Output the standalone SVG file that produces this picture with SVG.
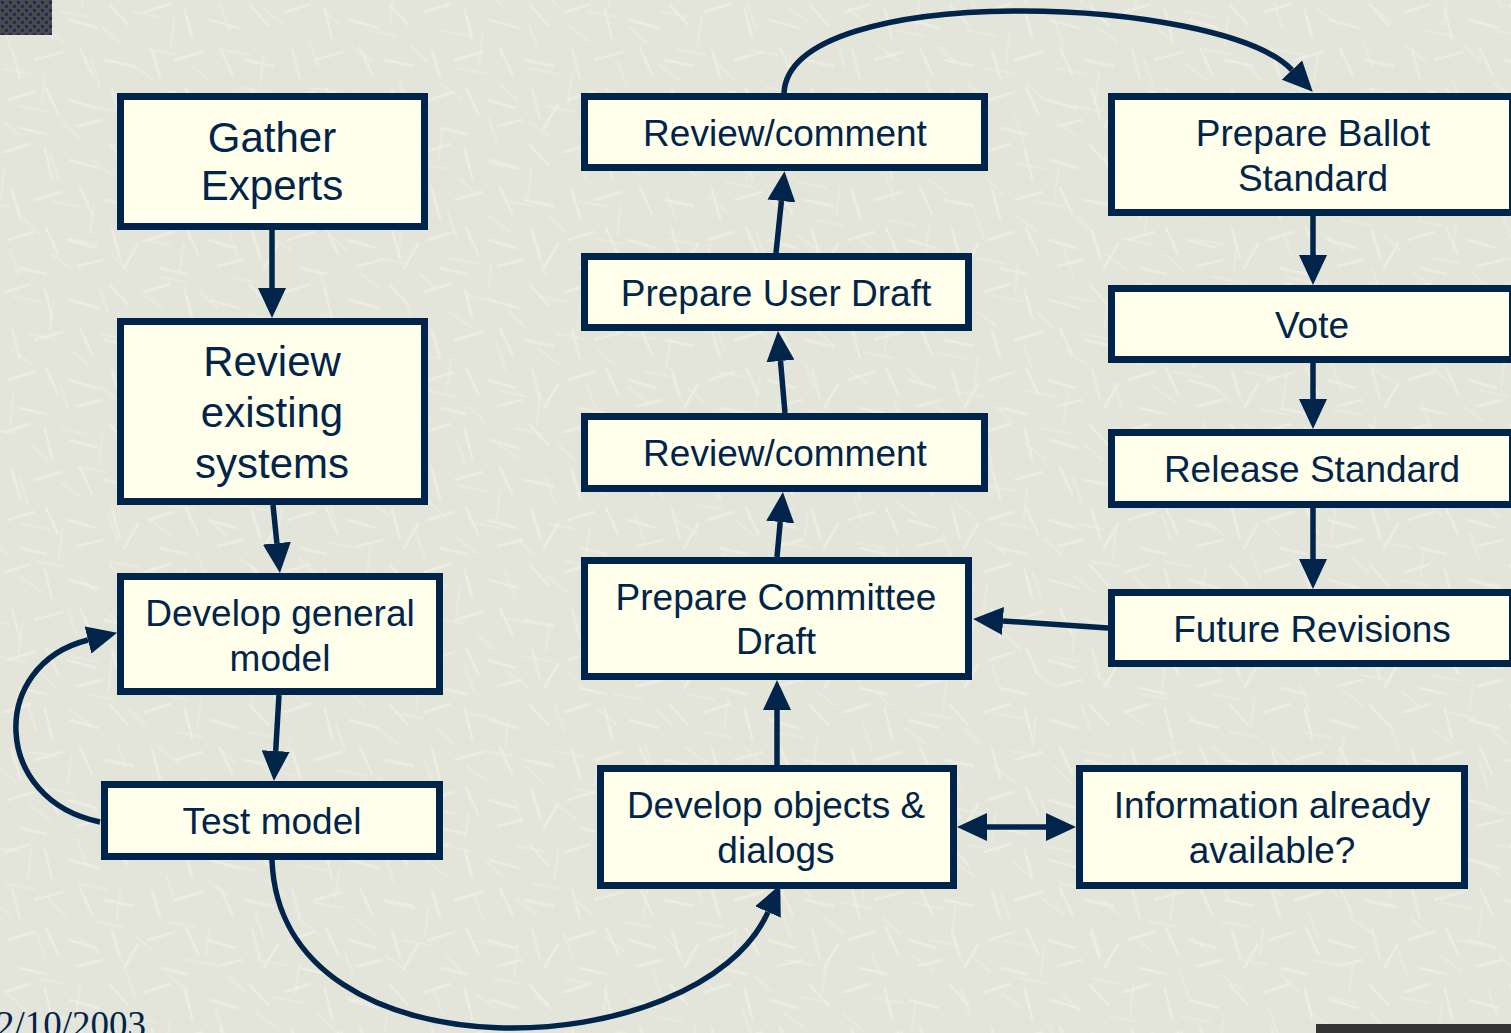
<svg xmlns="http://www.w3.org/2000/svg" width="1511" height="1033" viewBox="0 0 1511 1033">
<defs>
<style>
.box{fill:#FFFFEB;stroke:#00244A;stroke-width:7}
.t{font-family:"Liberation Sans",Arial,sans-serif;font-size:37px;fill:#00244A;text-anchor:middle}
.tl{font-size:42px}
.c{fill:none;stroke:#00244A;stroke-width:5.5}
</style>
<marker id="ah" viewBox="0 0 30 28" refX="0" refY="14" markerWidth="30" markerHeight="28" markerUnits="userSpaceOnUse" orient="auto-start-reverse">
<path d="M0,0 L30,14 L0,28 Z" fill="#00244A"/>
</marker>
<pattern id="tex" width="140" height="140" patternUnits="userSpaceOnUse">
<g stroke="#EFF0E8" stroke-width="2.5" stroke-linecap="round" opacity="0.7">
<line x1="5" y1="12" x2="30" y2="4"/>
<line x1="45" y1="10" x2="52" y2="38"/>
<line x1="70" y1="20" x2="98" y2="28"/>
<line x1="110" y1="5" x2="128" y2="25"/>
<line x1="12" y1="50" x2="20" y2="78"/>
<line x1="35" y1="60" x2="62" y2="52"/>
<line x1="80" y1="48" x2="92" y2="74"/>
<line x1="105" y1="60" x2="133" y2="66"/>
<line x1="8" y1="100" x2="34" y2="92"/>
<line x1="46" y1="88" x2="58" y2="114"/>
<line x1="68" y1="100" x2="96" y2="108"/>
<line x1="112" y1="90" x2="120" y2="118"/>
<line x1="20" y1="128" x2="46" y2="134"/>
<line x1="78" y1="126" x2="102" y2="120"/>
<line x1="124" y1="128" x2="138" y2="104"/>
</g>
</pattern>
<pattern id="tex2" width="97" height="103" patternUnits="userSpaceOnUse" patternTransform="rotate(23)">
<g stroke="#ECEDE4" stroke-width="2" stroke-linecap="round" opacity="0.6">
<line x1="10" y1="20" x2="28" y2="40"/>
<line x1="50" y1="8" x2="75" y2="14"/>
<line x1="30" y1="62" x2="58" y2="56"/>
<line x1="70" y1="50" x2="78" y2="78"/>
<line x1="8" y1="88" x2="30" y2="96"/>
<line x1="60" y1="90" x2="88" y2="84"/>
</g>
</pattern>
<pattern id="dots" width="8" height="8" patternUnits="userSpaceOnUse">
<rect width="8" height="8" fill="#4A4A4A"/>
<rect x="1" y="1" width="3" height="3" fill="#1F2A5C"/>
<rect x="5" y="5" width="3" height="3" fill="#1F2A5C"/>
</pattern>
</defs>
<rect width="1511" height="1033" fill="#E4E5DA"/>
<rect width="1511" height="1033" fill="url(#tex2)"/>
<rect width="1511" height="1033" fill="url(#tex)"/>
<rect x="0" y="0" width="52" height="35" fill="url(#dots)"/>
<rect x="1316" y="1024" width="195" height="9" fill="#333333"/>
<text x="-4" y="1037" style="font-family:'Liberation Serif','Times New Roman',serif;font-size:37px;fill:#00244A">2/10/2003</text>

<g id="connectors">
<path class="c" d="M272 230 L272 288" marker-end="url(#ah)"/>
<path class="c" d="M273 505 L276.9 543.2" marker-end="url(#ah)"/>
<path class="c" d="M279 695 L275.7 751" marker-end="url(#ah)"/>
<path class="c" d="M100 822 C -8 800, -12 665, 88 640" marker-end="url(#ah)"/>
<path class="c" d="M272 860 C 280 1085, 700 1065, 768 912" marker-end="url(#ah)"/>
<path class="c" d="M777 765 L777 710" marker-end="url(#ah)"/>
<path class="c" d="M777 557 L780.2 522" marker-end="url(#ah)"/>
<path class="c" d="M785 413 L780.5 361" marker-end="url(#ah)"/>
<path class="c" d="M776 253 L781.4 201" marker-end="url(#ah)"/>
<path class="c" d="M784 93 C 790 -20, 1220 -5, 1292 70" marker-end="url(#ah)"/>
<path class="c" d="M1313 216 L1313 255" marker-end="url(#ah)"/>
<path class="c" d="M1313 363 L1313 399" marker-end="url(#ah)"/>
<path class="c" d="M1313 508 L1313 559" marker-end="url(#ah)"/>
<path class="c" d="M1108 628 L1003 621" marker-end="url(#ah)"/>
<path class="c" d="M987 827 L1046 827" marker-start="url(#ah)" marker-end="url(#ah)"/>
</g>

<g id="gather">
<rect class="box" x="120.5" y="96.5" width="304" height="130"/>
<text class="t tl" x="272" y="152">Gather</text>
<text class="t tl" x="272" y="200">Experts</text>
</g>
<g id="review-existing">
<rect class="box" x="120.5" y="321.5" width="304" height="180"/>
<text class="t tl" x="272" y="376">Review</text>
<text class="t tl" x="272" y="427">existing</text>
<text class="t tl" x="272" y="478">systems</text>
</g>
<g id="develop-general">
<rect class="box" x="120.5" y="576.5" width="319" height="115"/>
<text class="t" x="280" y="626">Develop general</text>
<text class="t" x="280" y="671">model</text>
</g>
<g id="test-model">
<rect class="box" x="104.5" y="784.5" width="335" height="72"/>
<text class="t" x="272" y="834">Test model</text>
</g>
<g id="review-comment-1">
<rect class="box" x="584.5" y="96.5" width="400" height="71"/>
<text class="t" x="785" y="146">Review/comment</text>
</g>
<g id="prepare-user-draft">
<rect class="box" x="584.5" y="256.5" width="384" height="71"/>
<text class="t" x="776" y="306">Prepare User Draft</text>
</g>
<g id="review-comment-2">
<rect class="box" x="584.5" y="416.5" width="400" height="72"/>
<text class="t" x="785" y="466">Review/comment</text>
</g>
<g id="prepare-committee-draft">
<rect class="box" x="584.5" y="560.5" width="384" height="116"/>
<text class="t" x="776" y="610">Prepare Committee</text>
<text class="t" x="776" y="654">Draft</text>
</g>
<g id="develop-objects">
<rect class="box" x="600.5" y="768.5" width="353" height="117"/>
<text class="t" x="776" y="818">Develop objects &amp;</text>
<text class="t" x="776" y="863">dialogs</text>
</g>
<g id="information-available">
<rect class="box" x="1079.5" y="768.5" width="385" height="117"/>
<text class="t" x="1272" y="818">Information already</text>
<text class="t" x="1272" y="863">available?</text>
</g>
<g id="prepare-ballot">
<rect class="box" x="1111.5" y="96.5" width="401" height="116"/>
<text class="t" x="1313" y="146">Prepare Ballot</text>
<text class="t" x="1313" y="191">Standard</text>
</g>
<g id="vote">
<rect class="box" x="1111.5" y="288.5" width="401" height="71"/>
<text class="t" x="1312" y="338">Vote</text>
</g>
<g id="release-standard">
<rect class="box" x="1111.5" y="432.5" width="401" height="72"/>
<text class="t" x="1312" y="482">Release Standard</text>
</g>
<g id="future-revisions">
<rect class="box" x="1111.5" y="592.5" width="401" height="71"/>
<text class="t" x="1312" y="642">Future Revisions</text>
</g>
</svg>
